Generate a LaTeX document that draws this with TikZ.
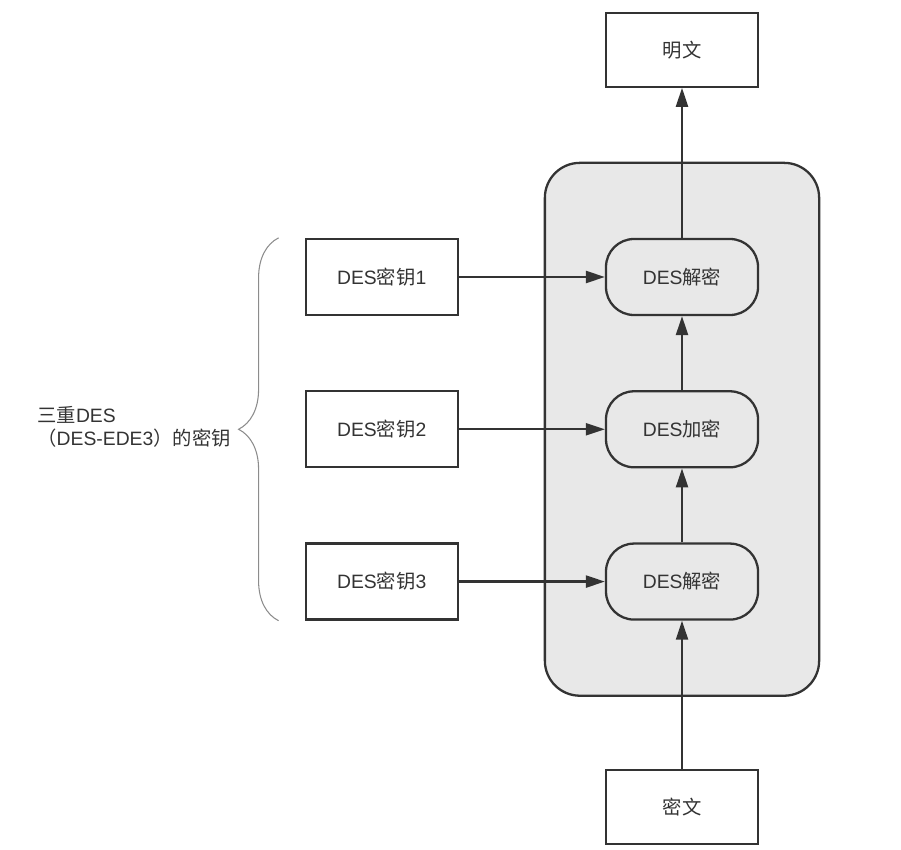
\documentclass[tikz,border=0pt]{standalone}
\usepackage{fontspec}
\setmainfont{Liberation Sans}
\newfontfamily\cjk{Noto Sans CJK SC}
\usetikzlibrary{arrows.meta,positioning,fit,backgrounds,decorations.pathreplacing}
\definecolor{deInk}{HTML}{333333}
\definecolor{deBox}{HTML}{E8E8E8}
\definecolor{deBrace}{HTML}{8C8C8C}
\tikzset{
  blk/.style={draw=deInk, line width=1.3pt, minimum width=3.04cm, minimum height=1.48cm, inner sep=2pt, font=\fontsize{11}{13}\selectfont, text=deInk, align=center},
  blkK/.style={blk, minimum height=1.52cm},
  blkR/.style={blkK, rounded corners=0.56cm},
  arr/.style={-{Triangle[length=0.38cm, width=0.24cm]}, line width=1.3pt, draw=deInk},
  grp/.style={draw=deInk, line width=1.3pt, fill=deBox, rounded corners=0.7cm, inner xsep=1.2cm, inner ysep=1.5cm},
  brc/.style={draw=deBrace, line width=0.6pt, decorate, decoration={brace, amplitude=0.8cm}},
}
\begin{document}
\begin{tikzpicture}[node distance=1.48cm]
  \useasboundingbox (0,0) rectangle (18.02,-16.98);
  % DES-EDE3 chain
  \node[blkR] (d1) at (13.64,-5.54) {DES{\cjk 解密}};
  \node[blkR, below=of d1] (e2) {DES{\cjk 加密}};
  \node[blkR, below=of e2] (d3) {DES{\cjk 解密}};
  \node[blk, above=3cm of d1] (pt) {{\cjk 明文}};
  \node[blk, below=2.96cm of d3] (ct) {{\cjk 密文}};
  % keys
  \node[blkK, left=2.92cm of d1] (k1) {DES{\cjk 密钥}1};
  \node[blkK, left=2.92cm of e2] (k2) {DES{\cjk 密钥}2};
  \node[blkK, left=2.92cm of d3] (k3) {DES{\cjk 密钥}3};
  \begin{scope}[on background layer]
    \node[grp, fit=(d1)(d3)] (ede) {};
  \end{scope}
  \draw[brc] ([xshift=-0.52cm]k3.south west) -- ([xshift=-0.52cm]k1.north west);
  \node[anchor=west, align=left, inner sep=0pt, text=deInk, font=\fontsize{11}{13}\selectfont] (lbl) at (0.74,-8.54)
    {{\cjk 三重}DES\\{\cjk （}DES-EDE3{\cjk ）的密钥}};
  \foreach \u/\v in {ct/d3,d3/e2,e2/d1,d1/pt,k1/d1,k2/e2,k3/d3} \draw[arr] (\u) -- (\v);
\end{tikzpicture}
\end{document}
